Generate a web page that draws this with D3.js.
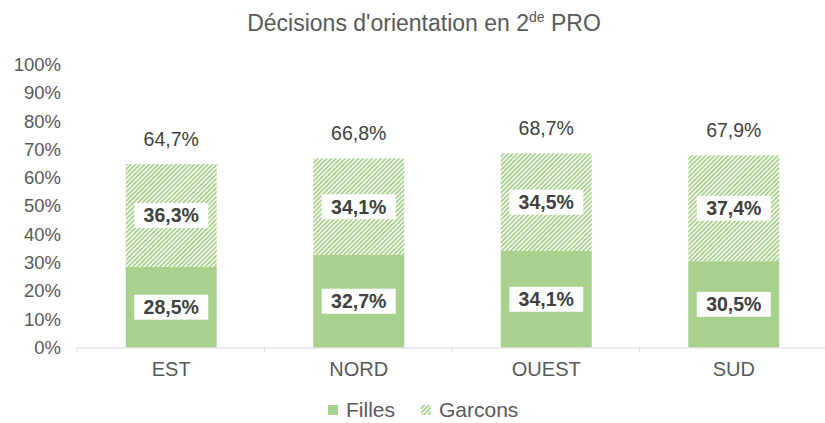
<!DOCTYPE html>
<html><head><meta charset="utf-8">
<script src="https://cdn.jsdelivr.net/npm/d3@7"></script>
<style>body{margin:0;background:#fff;} svg{display:block;font-family:"Liberation Sans",Arial,sans-serif;}</style>
</head><body>
<svg id="c" width="825" height="423"></svg>
<script>
const categories = ["EST", "NORD", "OUEST", "SUD"];
const filles = [28.5, 32.7, 34.1, 30.5];
const garcons = [36.3, 34.1, 34.5, 37.4];
const totals = [64.7, 66.8, 68.7, 67.9];
const yTicks = [0,10,20,30,40,50,60,70,80,90,100];
const seriesNames = ["Filles", "Garcons"];

const svg = d3.select("#c");
const green = "#A9D18E";
const defs = svg.append("defs");
const pat = defs.append("pattern").attr("id","hatch").attr("patternUnits","userSpaceOnUse")
  .attr("width",3.2).attr("height",3.2).attr("patternTransform","rotate(45)");
pat.append("rect").attr("width",3.2).attr("height",3.2).attr("fill","#fff");
pat.append("line").attr("x1",0.9).attr("y1",0).attr("x2",0.9).attr("y2",3.2)
  .attr("stroke",green).attr("stroke-width",1.9);

const fmt = v => v.toFixed(1).replace(".", ",") + "%";
const x = d3.scaleBand().domain(categories).range([77, 828]).paddingInner(0.515).paddingOuter(0.26);
const y = d3.scaleLinear().domain([0,100]).range([347.5, 64.5]);

// title
const t = svg.append("text").attr("x", 424).attr("y", 31).attr("text-anchor","middle")
  .attr("fill","#595959").style("font-size","23px");
t.append("tspan").text("Décisions d'orientation en 2");
t.append("tspan").text("de").style("font-size","14px").attr("dy",-9);
t.append("tspan").text(" PRO").attr("dy",9);

// y axis labels
const yAxis = d3.axisLeft(y).tickValues(yTicks).tickFormat(d => d + "%").tickSize(0).tickPadding(0);
const ya = svg.append("g").attr("transform","translate(61,0)").call(yAxis);
ya.select(".domain").remove();
ya.selectAll("text").attr("fill","#595959").style("font-size","18.5px").style("font-family","Liberation Sans, Arial, sans-serif");

// stacked bars
const stack = categories.map((c,i)=>({c, f:filles[i], g:garcons[i], t:totals[i]}));
const g = svg.append("g");
g.selectAll(".f").data(stack).join("rect").attr("x",d=>x(d.c)).attr("width",x.bandwidth())
  .attr("y",d=>y(d.f)).attr("height",d=>y(0)-y(d.f)).attr("fill",green);
g.selectAll(".g").data(stack).join("rect").attr("x",d=>x(d.c)).attr("width",x.bandwidth())
  .attr("y",d=>y(d.f+d.g)).attr("height",d=>y(d.f)-y(d.f+d.g)).attr("fill","url(#hatch)");

// x axis
const xAxis = d3.axisBottom(x).tickSize(0).tickPadding(14);
const xa = svg.append("g").attr("transform",`translate(0,${y(0)})`).call(xAxis);
xa.select(".domain").attr("stroke","#d9d9d9").attr("stroke-width",1.2);
xa.selectAll("text").attr("fill","#595959").style("font-size","20px").style("font-family","Liberation Sans, Arial, sans-serif");
// category separators ticks
const seps = [0,1,2,3,4].map(i => 77 + i*x.step());
svg.selectAll(".sep").data(seps).join("line").attr("x1",d=>d).attr("x2",d=>d)
  .attr("y1",y(0)).attr("y2",y(0)+4).attr("stroke","#d9d9d9").attr("stroke-width",1);

// segment labels
function boxLabel(cx, cy, txt){
  const gg = svg.append("g");
  gg.append("rect").attr("x",cx-37).attr("y",cy-12.5).attr("width",74).attr("height",25).attr("fill","#fff");
  gg.append("text").attr("x",cx).attr("y",cy+7).attr("text-anchor","middle")
    .attr("fill","#404040").style("font-size","19.5px").style("font-weight","bold").text(txt);
}
stack.forEach(d=>{
  const cx = x(d.c)+x.bandwidth()/2;
  boxLabel(cx, (y(0)+y(d.f))/2, fmt(d.f));
  boxLabel(cx, (y(d.f)+y(d.f+d.g))/2, fmt(d.g));
  svg.append("text").attr("x",cx).attr("y",y(d.f+d.g)-18).attr("text-anchor","middle")
    .attr("fill","#404040").style("font-size","19.5px").text(fmt(d.t));
});

// legend
const lg = svg.append("g");
lg.append("rect").attr("x",328).attr("y",405).attr("width",10).attr("height",10).attr("fill",green);
lg.append("text").attr("x",346).attr("y",417).attr("fill","#595959").style("font-size","21px").text(seriesNames[0]);
lg.append("rect").attr("x",421).attr("y",405).attr("width",10).attr("height",10).attr("fill","url(#hatch)");
lg.append("text").attr("x",439).attr("y",417).attr("fill","#595959").style("font-size","21px").text(seriesNames[1]);
</script>
</body></html>
